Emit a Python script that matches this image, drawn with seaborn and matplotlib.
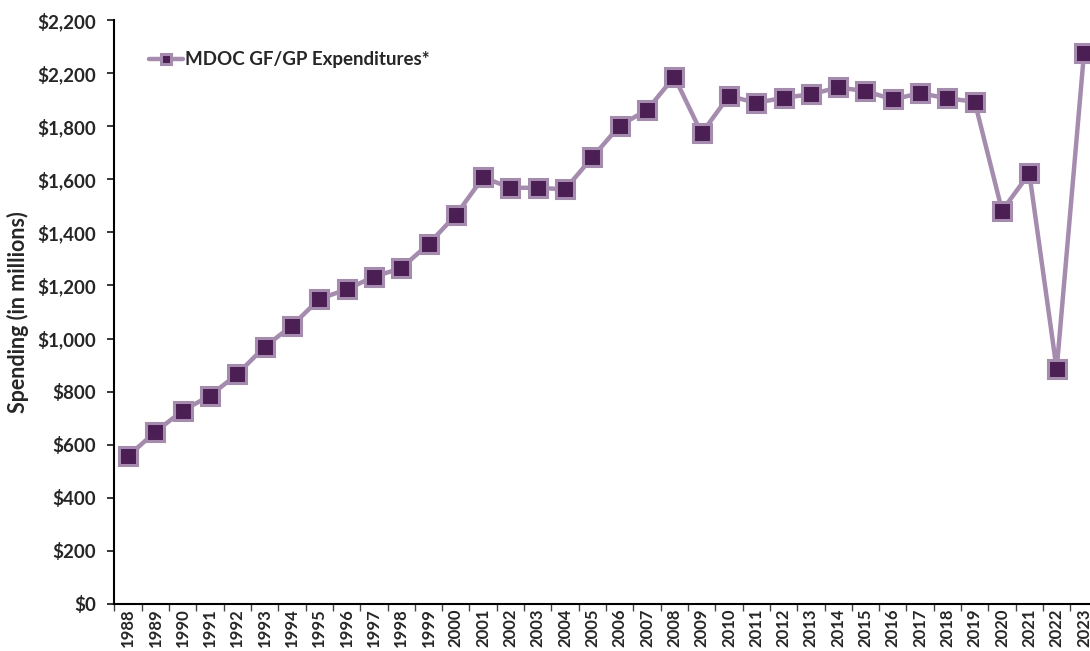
import numpy as np
import pandas as pd
import matplotlib
matplotlib.use("Agg")
import matplotlib.pyplot as plt
import seaborn as sns
from matplotlib.ticker import FixedLocator, NullFormatter

# Data (millions of dollars)
years = [str(y) for y in range(1988, 2024)]
spending = [557, 649, 728, 785, 866, 969, 1048, 1149, 1185, 1233,
            1265, 1356, 1465, 1607, 1568, 1568, 1562, 1683, 1802, 1861,
            1986, 1773, 1914, 1888, 1907, 1920, 1946, 1932, 1901, 1924,
            1905, 1892, 1482, 1622, 884, 2074]
ytick_values = [0, 200, 400, 600, 800, 1000, 1200, 1400, 1600, 1800, 2000, 2200]
ytick_labels = ["$0", "$200", "$400", "$600", "$800", "$1,000", "$1,200",
                "$1,400", "$1,600", "$1,800", "$2,200", "$2,200"]
series_name = "MDOC GF/GP Expenditures*"

df = pd.DataFrame({"Year": years, "Spending": spending})

sns.set_style("white")
plt.rcParams['font.family'] = ['Lato', 'DejaVu Sans']
plt.rcParams['font.weight'] = 'bold'

fig = plt.figure(figsize=(10.9, 6.51), dpi=100)
ax = fig.add_axes([0.105, 0.0722, 0.902, 0.8971])

line_col = "#A58BAE"
face_col = "#4B1F54"
sns.lineplot(data=df, x="Year", y="Spending", ax=ax, color=line_col, linewidth=3.2,
             marker="s", markersize=13, markerfacecolor=face_col,
             markeredgecolor=line_col, markeredgewidth=2.2, label=series_name)

ax.set_xlim(-0.5, len(years) - 0.5)
ax.set_ylim(0, 2200)
ax.set_yticks(ytick_values)
ax.set_yticklabels(ytick_labels, fontsize=13.5, fontweight='bold')

ax.set_xticks(range(len(years)))
ax.set_xticklabels(years, rotation=90, fontsize=12, fontweight='bold')
ax.tick_params(axis='x', which='major', length=0, pad=3)
ax.xaxis.set_minor_locator(FixedLocator(np.arange(-0.5, len(years), 1.0)))
ax.xaxis.set_minor_formatter(NullFormatter())
ax.tick_params(axis='x', which='minor', length=5, width=1, color='#444444', direction='out', bottom=True)
ax.tick_params(axis='y', length=5, width=1.3, direction='out', left=True, pad=8)

for side in ['top', 'right']:
    ax.spines[side].set_visible(False)
for side in ['left', 'bottom']:
    ax.spines[side].set_color('black')
    ax.spines[side].set_linewidth(1.5)

ax.set_xlabel("")
ax.set_ylabel("Spending (in millions)", fontsize=15.5, fontweight='bold', labelpad=6)

leg = ax.legend(loc='upper left', bbox_to_anchor=(0.018, 0.975), frameon=False,
                handlelength=1.8, handletextpad=0.1,
                markerscale=0.55, prop={'weight': 'bold', 'size': 13.5})

fig.savefig("out.png", dpi=100)
